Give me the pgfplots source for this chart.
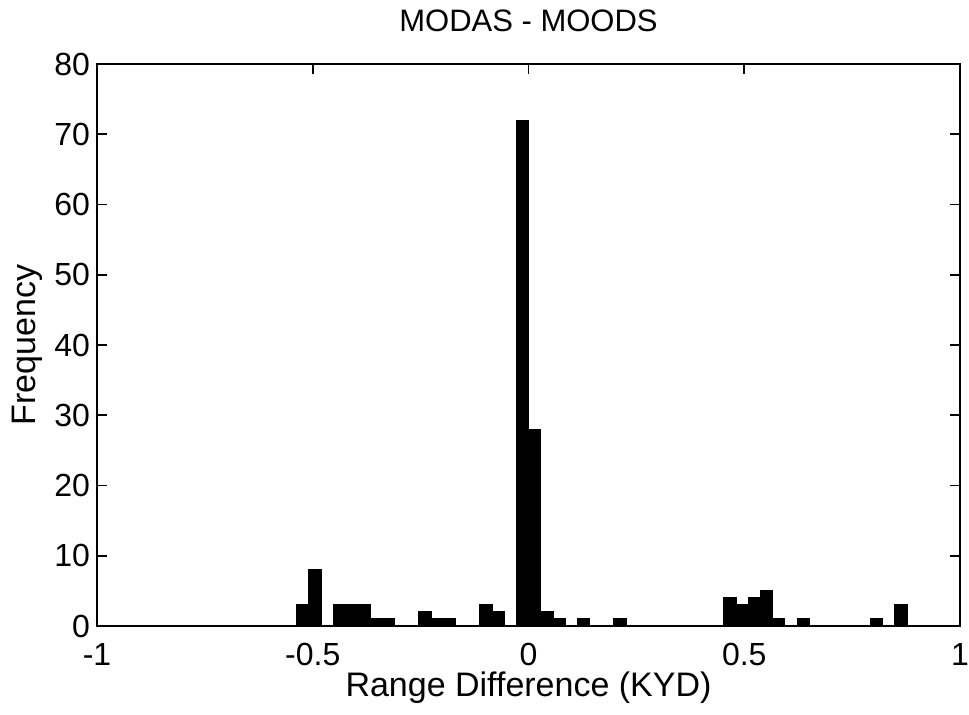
\documentclass[border=0pt]{standalone}
\usepackage{pgfplots}
\pgfplotsset{compat=1.18}
\usepackage{fontspec}
\setmainfont{Liberation Sans}

% histogram counts, bin centres (50 bins, width 0.02828)
\pgfplotsset{
  every tick/.style={black, line width=0.9pt},
}

\begin{document}
\begin{tikzpicture}
% frame of the reference page round the axis box
\useasboundingbox (-48.5pt,-44.5pt) rectangle (436pt,313pt);
\begin{axis}[
  scale only axis,
  width=431.5pt, height=281pt,
  xmin=-1, xmax=1, ymin=0, ymax=80,
  enlargelimits=false,
  axis line style={line width=0.9pt},
  tick align=inside,
  major tick length=5pt,
  xtick={-1,-0.5,0,0.5,1},
  xticklabels={-1,-0.5,0,0.5,1},
  ytick={0,10,...,80},
  yticklabels={0,10,20,30,40,50,60,70,80},
  tick label style={font=\fontsize{16}{19}\selectfont},
  xticklabel style={anchor=base, inner sep=0pt, yshift=-20pt},
  title={MODAS - MOODS},
  title style={font=\fontsize{15.5}{18}\selectfont, at={(axis description cs:0.5,1)}, anchor=base, yshift=10pt},
  xlabel={Range Difference (KYD)},
  xlabel style={font=\fontsize{17}{20}\selectfont, inner sep=0pt, at={(axis description cs:0.5,0)}, anchor=base, yshift=-35.5pt},
  ylabel={Frequency},
  ylabel style={font=\fontsize{17}{20}\selectfont, at={(axis description cs:-0.0718,0.5)}, anchor=base},
]
\addplot[ybar, bar width=0.02828, fill=black, draw=black, line width=0.6pt] coordinates {
  (-0.52286,3) (-0.49458,8)
  (-0.43802,3) (-0.40974,3) (-0.38146,3)
  (-0.35318,1) (-0.32490,1)
  (-0.24006,2) (-0.21178,1) (-0.18350,1)
  (-0.09866,3) (-0.07038,2)
  (-0.01382,72) (0.01446,28) (0.04274,2) (0.07102,1)
  (0.12758,1) (0.21242,1)
  (0.46694,4) (0.49522,3) (0.52350,4) (0.55178,5) (0.58006,1)
  (0.63662,1) (0.80630,1) (0.86286,3)
};
\end{axis}
\end{tikzpicture}
\end{document}
